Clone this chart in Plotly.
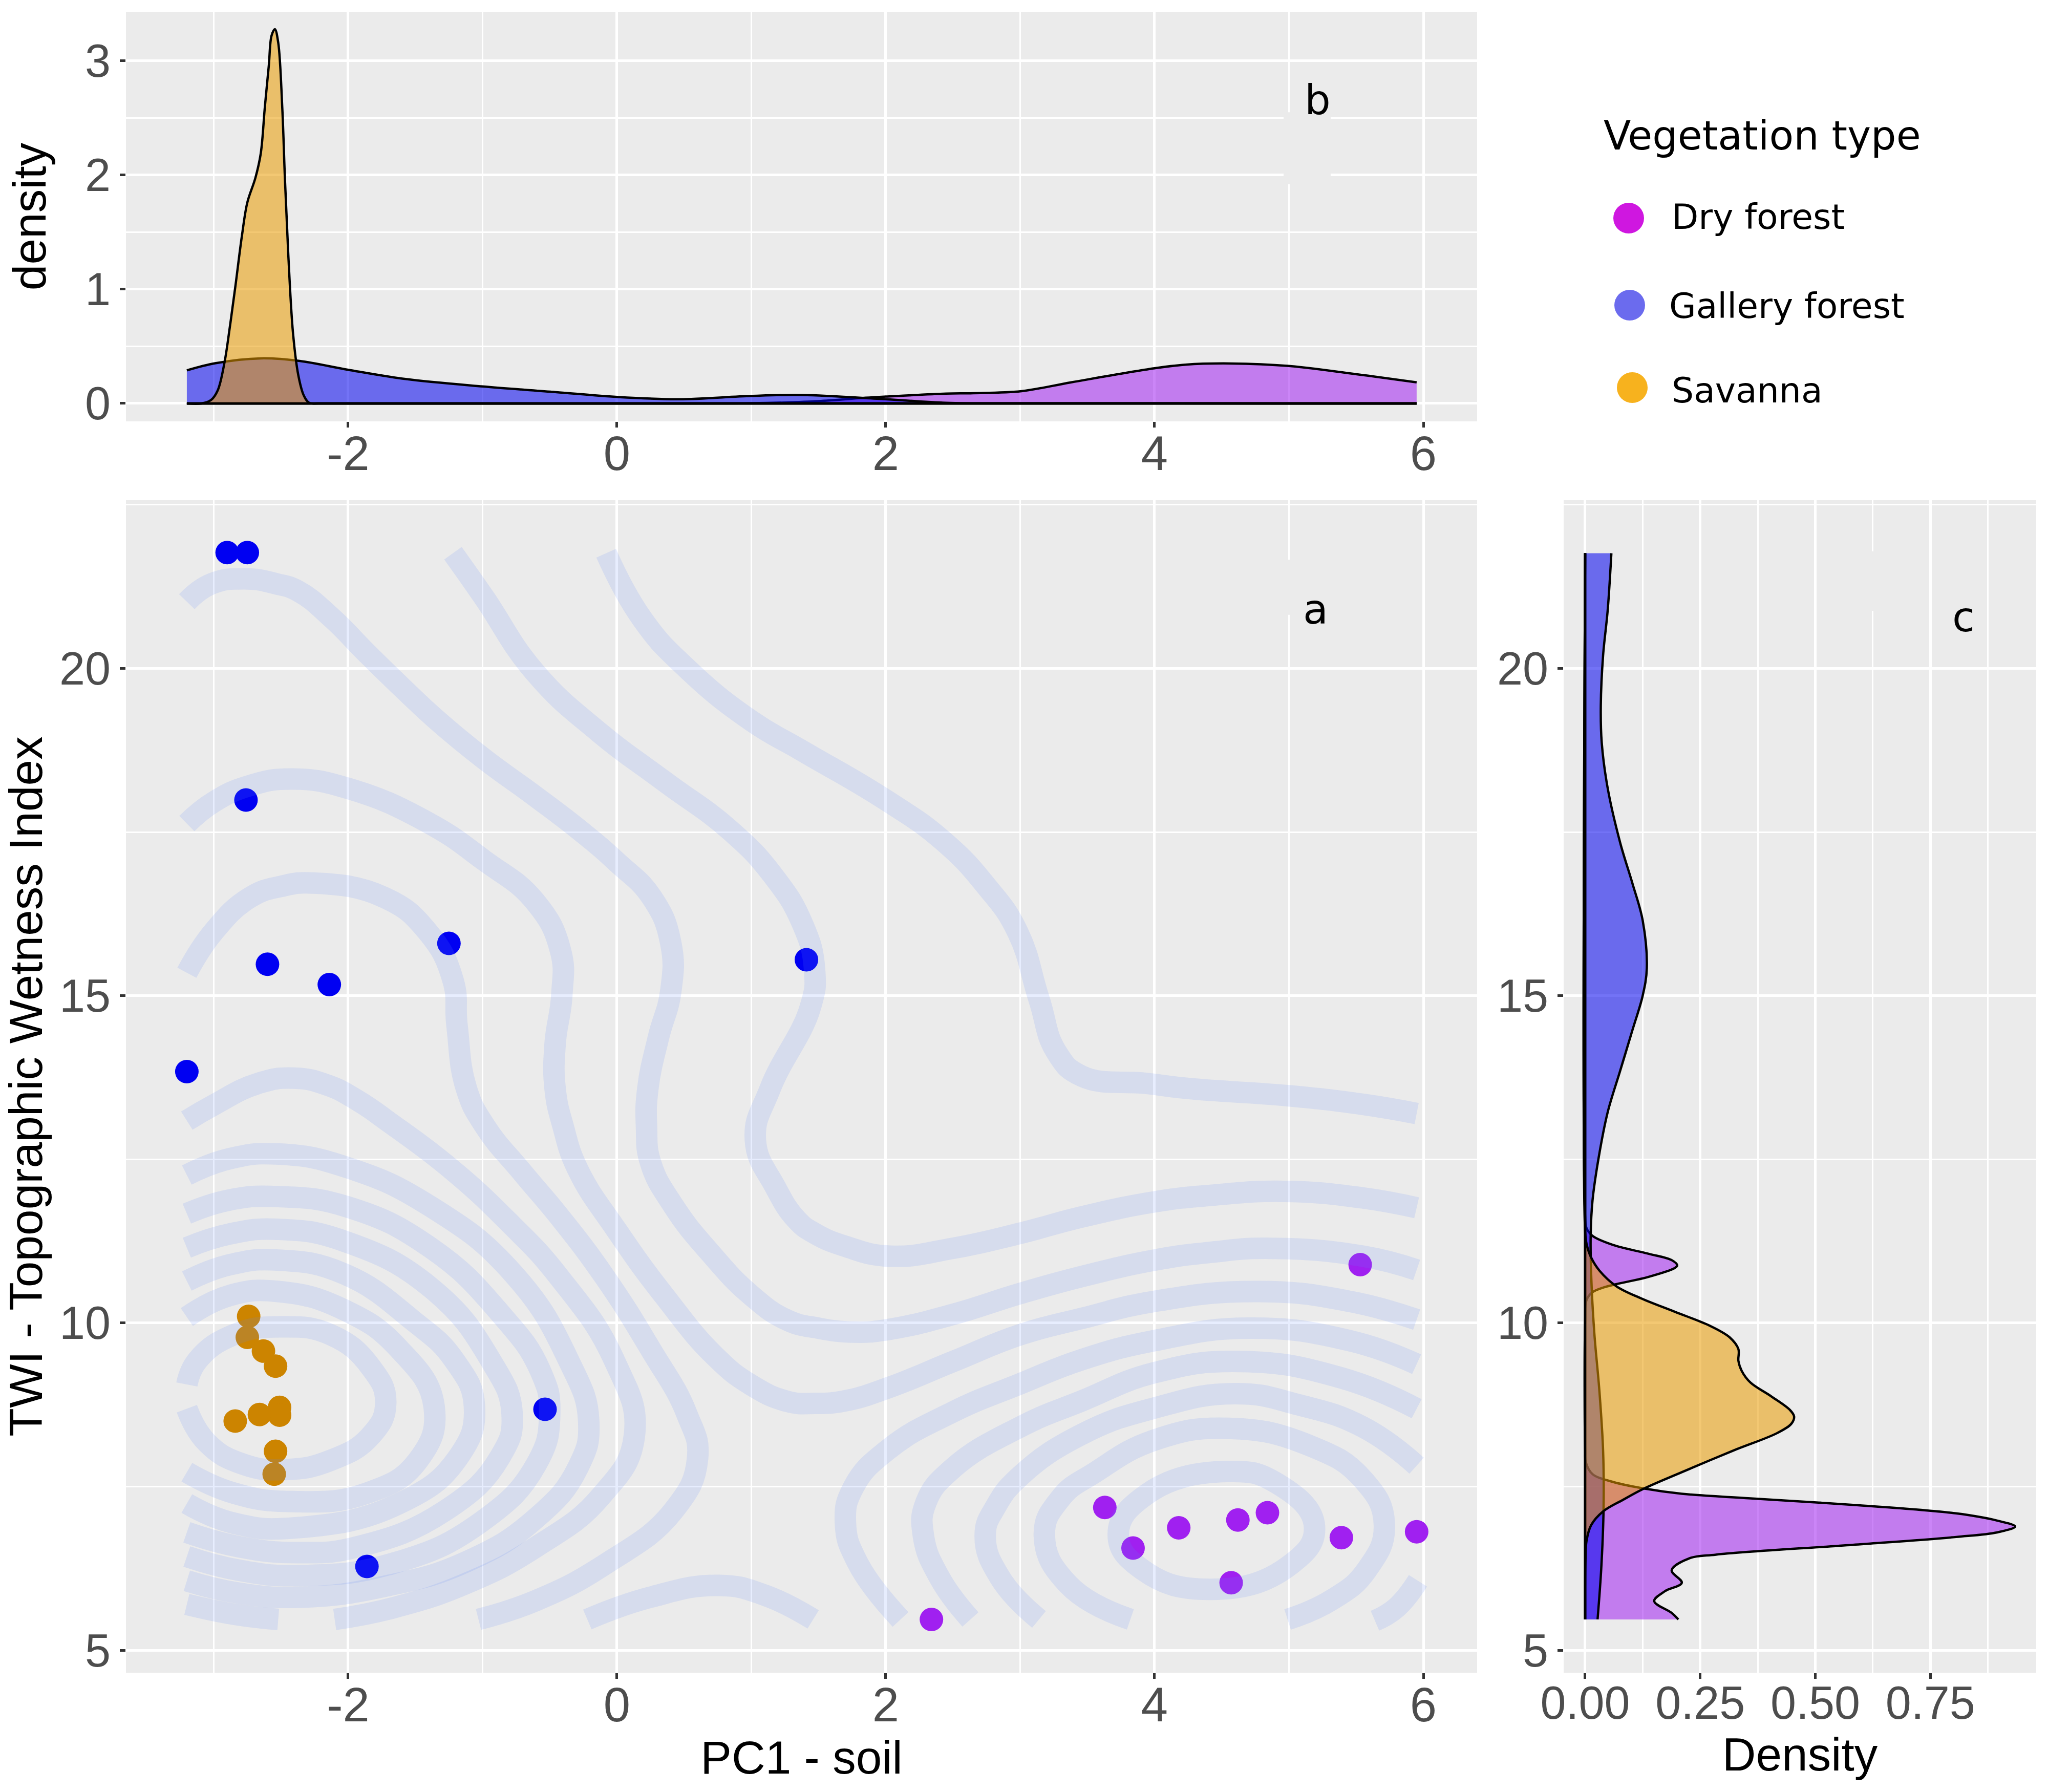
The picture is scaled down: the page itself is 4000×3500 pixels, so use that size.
import plotly.graph_objects as go

W, H = 4000, 3500

# ---- scatter points ----
dry_x = [3.63, 3.84, 4.18, 4.62, 4.84, 4.57, 5.39, 5.95, 5.53, 2.34]
dry_y = [7.18, 6.56, 6.87, 6.99, 7.10, 6.03, 6.72, 6.81, 10.89, 5.47]
gal_x = [-2.90, -2.75, -2.76, -2.60, -2.14, -1.25, -3.20, 1.41, -0.535, -1.86]
gal_y = [21.77, 21.77, 17.99, 15.48, 15.17, 15.80, 13.84, 15.55, 8.68, 6.28]
sav_x = [-2.74, -2.75, -2.63, -2.54, -2.51, -2.51, -2.66, -2.84, -2.54, -2.55]
sav_y = [10.10, 9.78, 9.57, 9.34, 8.71, 8.59, 8.60, 8.50, 8.04, 7.69]

# ---- top marginal density (panel b) ----
b_dry_x = [-3.2, 0.5, 1.0, 1.24, 1.5, 1.85, 2.0, 2.45, 2.65, 3.01, 3.38, 4.0, 4.23, 4.57, 5.0, 5.44, 5.95]
b_dry_y = [0, 0, 0.002, 0.008, 0.02, 0.05, 0.06, 0.086, 0.09, 0.108, 0.185, 0.308, 0.34, 0.35, 0.328, 0.266, 0.185]
b_gal_x = [-3.2, -2.99, -2.65, -2.36, -2.0, -1.58, -1.0, -0.46, 0, 0.46, 1.0, 1.38, 2.0, 2.45, 3.0, 5.95]
b_gal_y = [0.29, 0.352, 0.395, 0.372, 0.295, 0.215, 0.149, 0.10, 0.057, 0.037, 0.066, 0.074, 0.037, 0.006, 0.001, 0]
b_sav_x = [-3.2, -3.09, -3.02, -2.97, -2.92, -2.88, -2.84, -2.79, -2.75, -2.69, -2.65, -2.62, -2.59, -2.57, -2.545,
           -2.52, -2.49, -2.47, -2.445, -2.41, -2.37, -2.33, -2.29, -2.21, 5.95]
b_sav_y = [0, 0, 0.03, 0.115, 0.358, 0.67, 1.016, 1.47, 1.76, 1.975, 2.19, 2.59, 2.96, 3.22, 3.278,
           3.16, 2.59, 1.96, 1.30, 0.615, 0.243, 0.07, 0.006, 0, 0]

# ---- right marginal density (panel c) ----
c_dry_y = [5.47, 5.57, 5.75, 5.9, 6.03, 6.22, 6.40, 6.46, 6.61, 6.73, 6.80, 6.89, 6.98, 7.09, 7.22, 7.32, 7.39, 7.47,
           7.57, 7.69, 7.87, 8.05, 10.04, 10.35, 10.47, 10.54, 10.6, 10.7, 10.84, 10.88, 10.96, 11.06, 11.19, 11.33,
           11.45, 11.63, 21.76]
c_dry_x = [0.2025, 0.188, 0.150, 0.173, 0.21, 0.188, 0.225, 0.284, 0.582, 0.806, 0.895, 0.934, 0.895, 0.806, 0.582,
           0.359, 0.21, 0.128, 0.061, 0.016, 0.0015, 0, 0, 0.003, 0.016, 0.039, 0.072, 0.136, 0.195, 0.20, 0.188,
           0.136, 0.061, 0.016, 0.003, 0, 0]
c_gal_y = [5.47, 6.25, 7.15, 8.05, 8.96, 9.84, 10.68, 11.33, 11.87, 12.51, 13.22, 13.85, 14.48, 15.0, 15.42, 16.15,
           16.71, 17.34, 18.17, 18.87, 19.43, 20.2, 20.89, 21.76]
c_gal_x = [0.027, 0.035, 0.040, 0.039, 0.031, 0.020, 0.0134, 0.012, 0.016, 0.029, 0.049, 0.076, 0.103, 0.125, 0.134,
           0.125, 0.103, 0.076, 0.049, 0.036, 0.034, 0.039, 0.049, 0.057]
c_sav_y = [5.47, 5.96, 6.37, 6.67, 6.91, 7.12, 7.30, 7.47, 7.72, 8.05, 8.32, 8.46, 8.57, 8.67, 8.88, 9.09, 9.27, 9.42,
           9.60, 9.78, 9.96, 10.17, 10.38, 10.56, 10.8, 11.0, 11.21, 11.39, 21.76]
c_sav_x = [0, 0, 0.0007, 0.003, 0.013, 0.039, 0.083, 0.128, 0.21, 0.322, 0.418, 0.448, 0.454, 0.445, 0.404, 0.359,
           0.34, 0.333, 0.333, 0.314, 0.27, 0.195, 0.12, 0.068, 0.031, 0.013, 0.003, 0, 0]

# ---- 2D density contour lines (panel a) ----
ctr_a_x = [-3.20, -3.02, -2.77, -2.53, -2.37, -2.12, -1.86, -1.60, -1.35, -0.99, -0.61, -0.26, 0.00, 0.26, 0.40, 0.40,
           0.31, 0.23, 0.22, 0.25, 0.42, 0.69, 1.0, 1.27, 1.5, 1.76, 2.02, 2.50, 3.0, 3.46, 4.0, 4.42, 4.87, 5.55, 5.95]
ctr_a_y = [21.02, 21.29, 21.37, 21.29, 21.18, 20.77, 20.23, 19.71, 19.23, 18.62, 18.05, 17.50, 17.04, 16.50, 15.81,
           15.06, 14.37, 13.58, 13.0, 12.45, 11.79, 11.08, 10.42, 10.04, 9.92, 9.86, 9.90, 10.13, 10.45, 10.71, 10.96,
           11.08, 11.14, 11.02, 10.81]
ctr_d_x = [-3.20, -3.0, -2.73, -2.41, -1.99, -1.41, -0.99, -0.61, -0.42, -0.41, -0.46, -0.46, -0.40, -0.29, 0.0, 0.35,
           0.73, 1.0, 1.27, 1.47, 1.70, 2.02, 2.50, 3.0, 3.46, 4.0, 4.78, 5.45, 5.95]
ctr_d_y = [17.63, 17.96, 18.21, 18.31, 18.16, 17.65, 17.07, 16.44, 15.69, 15.01, 14.26, 13.58, 13.0, 12.34, 11.41,
           10.42, 9.49, 9.05, 8.80, 8.77, 8.81, 9.01, 9.41, 9.82, 10.07, 10.33, 10.48, 10.33, 10.05]
ctr_e_x = [-3.20, -3.0, -2.73, -2.5, -2.25, -1.73, -1.41, -1.22, -1.19, -1.12, -0.98, -0.70, -0.43, -0.09, 0.25, 0.52,
           0.60, 0.42, -0.09, -0.60, -1.03]
ctr_e_y = [15.35, 15.98, 16.50, 16.67, 16.72, 16.50, 15.98, 15.24, 14.55, 13.58, 13.0, 12.29, 11.63, 10.70, 9.60, 8.61,
           7.93, 7.13, 6.31, 5.76, 5.47]
ctr_c_x = [-1.22, -0.99, -0.61, -0.13, 0.35, 0.84, 1.16, 1.38, 1.47, 1.44, 1.14, 1.03, 1.18, 1.34, 1.47, 1.70,
           2.03, 2.50, 3.0, 3.46, 4.0, 4.42, 4.97, 5.55, 5.95]
ctr_c_y = [21.76, 21.09, 19.94, 19.02, 18.28, 17.53, 16.84, 16.10, 15.41, 14.83, 13.58, 12.8, 12.07, 11.57,
           11.37, 11.17, 11.02, 11.14, 11.37, 11.62, 11.85, 11.95, 12.01, 11.91, 11.76]
ctr_b_x = [-0.08, 0.19, 0.52, 1.0, 1.38, 2.0, 2.43, 2.75, 2.98, 3.14, 3.27, 3.46, 3.94, 4.26, 5.0, 5.55, 5.95]
ctr_b_y = [21.76, 20.75, 20.0, 19.20, 18.74, 17.99, 17.36, 16.67, 15.98, 14.95, 14.14, 13.77, 13.66, 13.58, 13.47, 13.34, 13.20]
ctr_l0_x = [-3.20, -3.12, -2.85, -2.51, -2.13, -1.83, -1.72, -1.83, -2.13, -2.47, -2.78, -3.05, -3.20]
ctr_l0_y = [9.06, 9.43, 9.82, 9.94, 9.82, 9.32, 8.78, 8.28, 7.90, 7.76, 7.84, 8.17, 8.69]
ctr_l1_x = [-3.20, -2.88, -2.52, -2.03, -1.62, -1.36, -1.48, -1.86, -2.41, -2.85, -3.20]
ctr_l1_y = [10.09, 10.42, 10.48, 10.20, 9.60, 8.72, 7.90, 7.40, 7.27, 7.40, 7.72]
ctr_l2_x = [-3.20, -2.88, -2.52, -2.03, -1.52, -1.21, -1.06, -1.18, -1.62, -2.39, -2.85, -3.20]
ctr_l2_y = [10.64, 10.89, 10.96, 10.75, 10.04, 9.43, 8.72, 7.95, 7.24, 6.87, 6.94, 7.24]
ctr_l3_x = [-3.2, -2.88, -2.52, -2.03, -1.38, -0.94, -0.78, -0.87, -1.28, -1.93, -2.37, -2.81, -3.20]
ctr_l3_y = [11.15, 11.36, 11.43, 11.25, 10.53, 9.43, 8.61, 7.95, 7.13, 6.58, 6.49, 6.58, 6.80]
ctr_l4_x = [-3.2, -2.88, -2.52, -2.0, -1.38, -0.87, -0.57, -0.50, -0.60, -1.01, -1.66, -2.35, -2.81, -3.2]
ctr_l4_y = [11.67, 11.88, 11.93, 11.77, 11.14, 10.15, 9.27, 8.61, 7.84, 6.96, 6.33, 6.14, 6.22, 6.43]
ctr_l5_x = [-3.2, -2.88, -2.51, -2.0, -1.38, -0.77, -0.36, -0.21, -0.29, -0.60, -1.11, -1.72, -2.35, -2.81, -3.2]
ctr_l5_y = [12.26, 12.51, 12.58, 12.37, 11.77, 10.75, 9.43, 8.50, 7.79, 7.02, 6.36, 5.98, 5.81, 5.87, 6.06]
ctr_l6_x = [-3.2, -3.0, -2.67, -2.40, -2.15, -1.93, -1.69, -1.25, -0.81, -0.43, -0.02, 0.13, -0.12, -0.60, -1.11, -1.66, -2.10]
ctr_l6_y = [13.09, 13.33, 13.66, 13.74, 13.63, 13.40, 13.06, 12.38, 11.55, 10.70, 9.43, 8.28, 7.35, 6.58, 6.03, 5.65, 5.47]
ctr_l6b_x = [-2.52, -2.85, -3.2]
ctr_l6b_y = [5.47, 5.55, 5.70]
ctr_arch_x = [-0.22, 0.25, 0.76, 1.10, 1.46]
ctr_arch_y = [5.47, 5.81, 5.99, 5.84, 5.47]
ctr_r4_x = [2.11, 1.79, 1.70, 1.76, 2.02, 2.50, 3.0, 3.46, 4.0, 4.71, 5.45, 5.95]
ctr_r4_y = [5.47, 6.34, 6.95, 7.49, 8.07, 8.64, 9.07, 9.44, 9.73, 9.92, 9.73, 9.37]
ctr_r5_x = [2.63, 2.40, 2.28, 2.30, 2.50, 3.0, 3.46, 4.0, 4.65, 5.39, 5.95]
ctr_r5_y = [5.47, 6.11, 6.75, 7.26, 7.78, 8.41, 8.81, 9.24, 9.41, 9.16, 8.69]
ctr_r6_x = [3.14, 2.85, 2.74, 2.82, 3.0, 3.46, 4.0, 4.60, 5.07, 5.55, 5.95]
ctr_r6_y = [5.47, 6.11, 6.75, 7.20, 7.66, 8.30, 8.70, 8.92, 8.75, 8.41, 7.82]
ctr_r7_x = [3.82, 3.36, 3.18, 3.30, 3.56, 4.0, 4.55, 5.16, 5.55, 5.71, 5.58, 5.32, 4.99]
ctr_r7_y = [5.47, 6.0, 6.75, 7.32, 7.72, 8.21, 8.39, 8.12, 7.61, 6.92, 6.23, 5.77, 5.47]
ctr_r8_x = [4.54, 4.91, 5.19, 5.0, 4.42, 3.91, 3.73, 3.94, 4.54]
ctr_r8_y = [7.73, 7.55, 6.89, 6.29, 5.93, 6.23, 6.77, 7.38, 7.73]
ctr_r9_x = [5.64, 5.80, 5.96]
ctr_r9_y = [5.45, 5.65, 6.06]

contours = [
    (ctr_a_x, ctr_a_y), (ctr_d_x, ctr_d_y), (ctr_e_x, ctr_e_y), (ctr_c_x, ctr_c_y), (ctr_b_x, ctr_b_y),
    (ctr_l0_x, ctr_l0_y), (ctr_l1_x, ctr_l1_y), (ctr_l2_x, ctr_l2_y), (ctr_l3_x, ctr_l3_y), (ctr_l4_x, ctr_l4_y),
    (ctr_l5_x, ctr_l5_y), (ctr_l6_x, ctr_l6_y), (ctr_l6b_x, ctr_l6b_y), (ctr_arch_x, ctr_arch_y),
    (ctr_r4_x, ctr_r4_y), (ctr_r5_x, ctr_r5_y), (ctr_r6_x, ctr_r6_y), (ctr_r7_x, ctr_r7_y), (ctr_r8_x, ctr_r8_y),
    (ctr_r9_x, ctr_r9_y),
]

# ---- ticks / labels ----
pc_ticks = [-2, 0, 2, 4, 6]
pc_labels = ["-2", "0", "2", "4", "6"]
pc_minor = [-3, -1, 1, 3, 5]
dens_ticks = [0, 1, 2, 3]
dens_minor = [0.5, 1.5, 2.5]
twi_ticks = [5, 10, 15, 20]
twi_minor = [7.5, 12.5, 17.5, 22.5]
dc_ticks = [0, 0.25, 0.5, 0.75]
dc_labels = ["0.00", "0.25", "0.50", "0.75"]
dc_minor = [0.125, 0.375, 0.625, 0.875]
legend_names = ["Dry forest", "Gallery forest", "Savanna"]

# ---- styles ----
BG = "#EBEBEB"
FILL = {"dry": "rgba(160,32,240,0.55)", "gal": "rgba(0,0,238,0.55)", "sav": "rgba(233,154,0,0.55)"}
PT = {"dry": "#A020F0", "gal": "#0000F2", "sav": "#CC8400"}
CONTOUR = "rgba(95,135,247,0.15)"
SANS = "Liberation Sans"
LEG = "DejaVu Sans"
LW = 4.5


def fx(px):
    return px / W


def fy(py):
    return 1 - py / H


fig = go.Figure()

# panel b: density along PC1
for key, xs, ys in [("dry", b_dry_x, b_dry_y), ("gal", b_gal_x, b_gal_y), ("sav", b_sav_x, b_sav_y)]:
    fig.add_trace(go.Scatter(x=xs, y=ys, xaxis="x2", yaxis="y2", mode="lines", fill="tozeroy",
                             fillcolor=FILL[key], line=dict(color="black", width=LW, shape="spline", smoothing=1.0),
                             showlegend=False, hoverinfo="skip"))
    fig.add_trace(go.Scatter(x=[xs[0], xs[-1]], y=[0, 0], xaxis="x2", yaxis="y2", mode="lines",
                             line=dict(color="black", width=LW), showlegend=False, hoverinfo="skip"))

# panel c: density along TWI
for key, xs, ys in [("dry", c_dry_x, c_dry_y), ("gal", c_gal_x, c_gal_y), ("sav", c_sav_x, c_sav_y)]:
    fig.add_trace(go.Scatter(x=xs, y=ys, xaxis="x3", yaxis="y3", mode="lines", fill="tozerox",
                             fillcolor=FILL[key], line=dict(color="black", width=LW, shape="spline", smoothing=1.0),
                             showlegend=False, hoverinfo="skip"))
    fig.add_trace(go.Scatter(x=[0, 0], y=[ys[0], ys[-1]], xaxis="x3", yaxis="y3", mode="lines",
                             line=dict(color="black", width=LW), showlegend=False, hoverinfo="skip"))

# panel a: points, contours on top
for key, name, xs, ys in [("dry", legend_names[0], dry_x, dry_y), ("gal", legend_names[1], gal_x, gal_y),
                          ("sav", legend_names[2], sav_x, sav_y)]:
    fig.add_trace(go.Scatter(x=xs, y=ys, xaxis="x", yaxis="y", mode="markers", name=name,
                             marker=dict(color=PT[key], size=46, line=dict(width=0)), showlegend=False))
for cx, cy in contours:
    fig.add_trace(go.Scatter(x=cx, y=cy, xaxis="x", yaxis="y", mode="lines",
                             line=dict(color=CONTOUR, width=42, shape="spline", smoothing=1.3),
                             showlegend=False, hoverinfo="skip"))


def axis(domain, rng, ticks, labels, minor_vals, anchor, size=90, **kw):
    d = dict(domain=domain, range=rng, tickmode="array", tickvals=ticks, ticktext=labels,
             showgrid=True, gridcolor="white", gridwidth=5, zeroline=False, showline=False,
             ticks="outside", ticklen=11, tickwidth=5, tickcolor="#333333",
             tickfont=dict(family=SANS, size=size, color="#4D4D4D"),
             minor=dict(tickmode="array", tickvals=minor_vals, showgrid=True, gridcolor="white",
                        gridwidth=2.5, ticks=""),
             anchor=anchor, automargin=False)
    d.update(kw)
    return d


title_font = dict(family=SANS, size=91, color="black")
xd_main = [fx(246), fx(2885)]
xd_side = [fx(3054), fx(3977)]
yd_main = [fy(3267), fy(977)]
yd_top = [fy(823), fy(23)]
x_rng = [-3.653, 6.4]
y_rng = [4.656, 22.57]
XSTAND = -30

fig.update_layout(
    width=W, height=H, margin=dict(l=0, r=0, t=0, b=0, pad=0),
    paper_bgcolor="white", plot_bgcolor=BG, showlegend=False, hovermode=False,
    xaxis=axis(xd_main, x_rng, pc_ticks, pc_labels, pc_minor, "y", size=94, ticklabelstandoff=XSTAND,
               title=dict(text="PC1 - soil", font=title_font, standoff=11)),
    yaxis=axis(yd_main, y_rng, twi_ticks, [str(v) for v in twi_ticks], twi_minor, "x",
               title=dict(text="TWI - Topographic Wetness Index", font=title_font, standoff=7)),
    xaxis2=axis(xd_main, x_rng, pc_ticks, pc_labels, pc_minor, "y2", size=94, ticklabelstandoff=XSTAND),
    yaxis2=axis(yd_top, [-0.157, 3.43], dens_ticks, [str(v) for v in dens_ticks], dens_minor, "x2",
                title=dict(text="density", font=title_font, standoff=46)),
    xaxis3=axis(xd_side, [-0.0467, 0.98], dc_ticks, dc_labels, dc_minor, "y3", ticklabelstandoff=XSTAND,
                title=dict(text="Density", font=title_font, standoff=18)),
    yaxis3=axis(yd_main, y_rng, twi_ticks, [str(v) for v in twi_ticks], twi_minor, "x3"),
)

shapes = [
    # masks behind the panel letters (background-coloured boxes over the gridlines)
    dict(type="rect", xref="x2", yref="y2", x0=4.96, x1=5.31, y0=1.92, y1=2.55,
         fillcolor=BG, line=dict(width=0), layer="between"),
    dict(type="rect", xref="x", yref="y", x0=4.985, x1=5.015, y0=20.82, y1=21.66,
         fillcolor=BG, line=dict(width=0), layer="between"),
    dict(type="rect", xref="x3", yref="y3", x0=0.62, x1=0.63, y0=20.88, y1=21.79,
         fillcolor=BG, line=dict(width=0), layer="between"),
]
for (cx, cy), col in zip([(3181, 426), (3183, 596), (3188, 757)], ["#CF17E0", "#6B6BEE", "#F7B21E"]):
    shapes.append(dict(type="circle", xref="paper", yref="paper", x0=fx(cx - 30), x1=fx(cx + 30),
                       y0=fy(cy + 30), y1=fy(cy - 30), fillcolor=col, line=dict(width=0)))
fig.update_layout(shapes=shapes)

annos = [
    ("Vegetation type", 3130, 265, 78, "left"),
    (legend_names[0], 3263, 423, 68, "left"),
    (legend_names[1], 3258, 597, 68, "left"),
    (legend_names[2], 3263, 762, 68, "left"),
    ("a", 2569, 1190, 80, "center"),
    ("b", 2573, 195, 80, "center"),
    ("c", 3835, 1205, 80, "center"),
]
fig.update_layout(annotations=[
    dict(text=t, x=fx(px), y=fy(py), xref="paper", yref="paper", xanchor=a, yanchor="middle", showarrow=False,
         font=dict(family=LEG, size=s, color="black"))
    for t, px, py, s, a in annos
])

fig.write_html("out.html", post_script="document.body.style.margin='0';", config={"displayModeBar": False})
